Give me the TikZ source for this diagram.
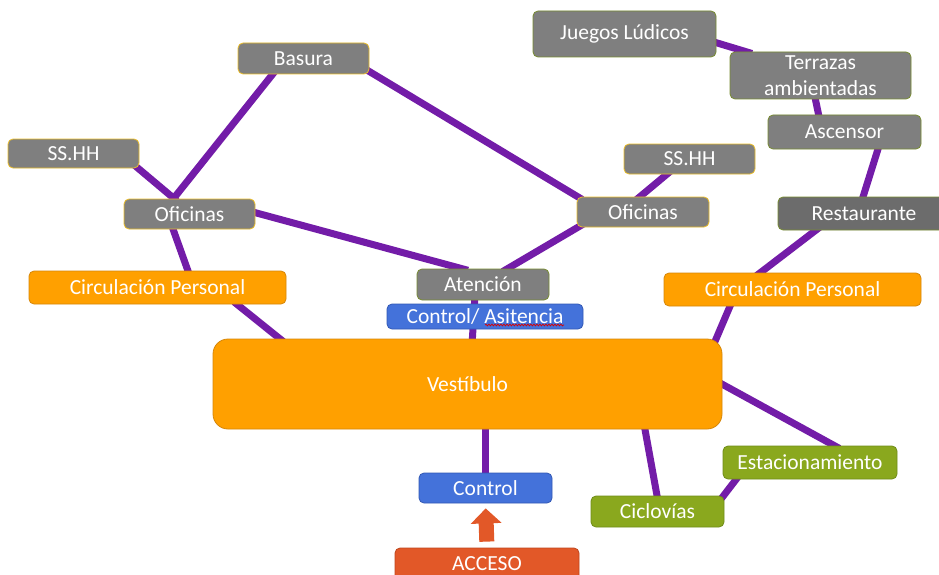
\documentclass[tikz,border=0pt]{standalone}
\usepackage{fontspec}
\setmainfont{Carlito}
\usetikzlibrary{backgrounds,calc,arrows.meta,decorations.pathmorphing}

\definecolor{linkpurple}{RGB}{115,28,168}
\definecolor{boxgray}{RGB}{127,127,127}
\definecolor{boxdark}{RGB}{108,108,108}
\definecolor{edgeolive}{RGB}{120,140,50}
\definecolor{edgegold}{RGB}{236,190,40}
\definecolor{boxorange}{RGB}{255,160,0}
\definecolor{edgeorange}{RGB}{214,135,10}
\definecolor{boxgreen}{RGB}{138,168,30}
\definecolor{edgegreen}{RGB}{112,140,25}
\definecolor{boxblue}{RGB}{68,114,218}
\definecolor{edgeblue}{RGB}{50,88,180}
\definecolor{boxred}{RGB}{226,88,40}
\definecolor{edgered}{RGB}{190,70,30}

\newcommand\labelfont{\fontsize{21.5}{26}\selectfont}

\tikzset{
  box/.style={rounded corners=5pt, inner sep=0pt, text=white, font=\labelfont,
              line width=0.8pt, align=center},
  graybox/.style={box, fill=boxgray, draw=edgeolive},
  goldbox/.style={box, fill=boxgray, draw=edgegold},
  darkbox/.style={box, fill=boxdark, draw=edgeolive},
  orangebox/.style={box, fill=boxorange, draw=edgeorange},
  greenbox/.style={box, fill=boxgreen, draw=edgegreen},
  bluebox/.style={box, fill=boxblue, draw=edgeblue},
  redbox/.style={box, fill=boxred, draw=edgered},
  sz/.style 2 args={minimum width=#1pt, minimum height=#2pt},
  link/.style={draw=linkpurple, line width=7pt},
  entry/.style={draw=boxred, line width=15pt,
                -{Triangle[length=15pt,width=30pt,fill=boxred]}}
}

\begin{document}
\begin{tikzpicture}[x=1pt,y=-1pt]
\useasboundingbox (0,0) rectangle (939,575);
\clip (0,0) rectangle (939,575);

% upper right branch
\node[graybox, sz={183}{46}] (juegos) at (624.5,34) {Juegos Lúdicos};
\node[graybox, sz={181}{47}] (terr) at (820.5,75.5) {Terrazas\\ambientadas};
\node[graybox, sz={153}{34}] (asc) at (844.5,132) {Ascensor};
\node[darkbox, sz={172}{33}] (rest) at (864,213.5) {Restaurante};
\node[orangebox, sz={257}{33}] (cpr) at (792.5,289.5) {Circulación Personal};

% offices on the right
\node[goldbox, sz={131}{30}] (ssr) at (689.5,159) {SS.HH};
\node[goldbox, sz={132}{30}] (ofr) at (643,212) {Oficinas};

% offices on the left
\node[goldbox, sz={131}{31}] (basura) at (303.5,58.5) {Basura};
\node[goldbox, sz={131}{29}] (ssl) at (73.5,153.5) {SS.HH};
\node[goldbox, sz={131}{30}] (ofl) at (189.5,214) {Oficinas};
\node[orangebox, sz={257}{33}] (cpl) at (157.5,287.5) {Circulación Personal};

% centre column
\node[graybox, sz={132}{31}] (aten) at (483,284.5) {Atención};
\node[bluebox, sz={196}{25}] (ctla) at (485,316.5) {Control/ Asitencia};
\node[orangebox, sz={509}{90}, rounded corners=15pt] (vest) at (467.5,384) {Vestíbulo};
\node[bluebox, sz={133}{30}] (ctl) at (485.5,488) {Control};
\node[redbox, sz={184}{32}] (acceso) at (487,564) {ACCESO};

% lower right branch
\node[greenbox, sz={174}{33}] (estac) at (810,462.5) {Estacionamiento};
\node[greenbox, sz={133}{31}] (ciclo) at (657.5,511.5) {Ciclovías};

% spelling mark under the attendance label
\draw[red!85!black, line width=0.7pt,
      decoration={snake, amplitude=0.9pt, segment length=3pt}, decorate]
  ($(ctla.center)+(0,8.5)$) -- ($(ctla.center)+(79,8.5)$);

% entrance arrow
\draw[entry, shorten <=6pt, shorten >=5pt] (acceso.north) -- (ctl.south);

\begin{pgfonlayer}{background}
  \fill[white] (0,0) rectangle (939,575);
  % links between spaces
  \draw[link] ($(juegos.center)+(84.5,6.5)$) -- ($(terr.center)+(-68.5,-22)$);
  \draw[link] ($(terr.center)+(-6,19.5)$) -- ($(asc.center)+(-25,-13)$);
  \draw[link] ($(asc.center)+(34.7,13.2)$) -- ($(rest.center)+(-2.2,-12.7)$);
  \draw[link] ($(rest.center)+(-44,13.5)$) -- ($(cpr.center)+(-36.5,-13.5)$);
  \draw[link] ($(cpr.center)+(-60.5,12)$) -- ($(vest.center)+(244.6,-35.8)$);
  \draw[link] ($(vest.center)+(248.1,-3.4)$) -- ($(estac.center)+(29.4,-14.1)$);
  \draw[link] ($(estac.center)+(-69,10.5)$) -- ($(ciclo.center)+(63.5,-12.5)$);
  \draw[link] ($(vest.center)+(176.5,40)$) -- ($(ciclo.center)+(0.5,-10.5)$);
  \draw[link] ($(vest.center)+(17.5,40)$) -- ($(ctl.center)+(-0.5,-10)$);
  \draw[link] ($(aten.center)+(-8,10.5)$) -- ($(vest.center)+(4.5,-39)$);
  \draw[link] ($(ofl.center)+(58.5,-3.3)$) -- ($(aten.center)+(-15,-14.2)$);
  \draw[link] ($(aten.center)+(19.7,-13)$) -- ($(ofr.center)+(-58.7,11.5)$);
  \draw[link] ($(ofr.center)+(-7,-12)$) -- ($(ssr.center)+(-18.5,11.8)$);
  \draw[link] ($(basura.center)+(59.2,9)$) -- ($(ofr.center)+(-60.7,-12.5)$);
  \draw[link] ($(basura.center)+(-27.5,11.5)$) -- ($(ofl.center)+(-19.5,-11)$);
  \draw[link] ($(ssl.center)+(59.5,10.5)$) -- ($(ofl.center)+(-12.5,-13)$);
  \draw[link] ($(ofl.center)+(-18.2,10.3)$) -- ($(cpl.center)+(32.2,-11.8)$);
  \draw[link] ($(cpl.center)+(76.5,14.4)$) -- ($(vest.center)+(-179.5,-38.7)$);
\end{pgfonlayer}
\end{tikzpicture}
\end{document}
